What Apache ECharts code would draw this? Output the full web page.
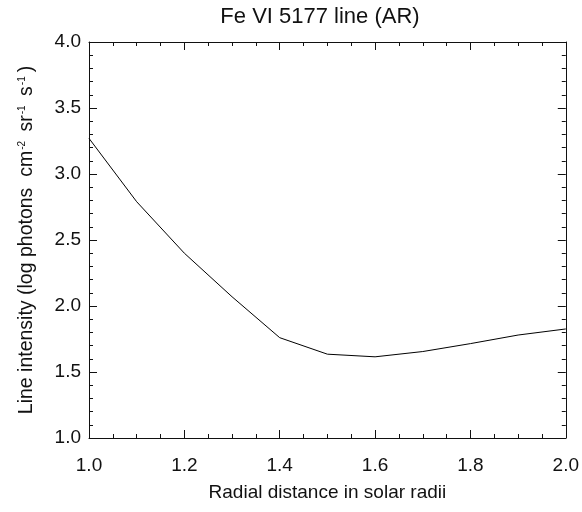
<!DOCTYPE html>
<html>
<head>
<meta charset="utf-8">
<script src="https://cdn.jsdelivr.net/npm/echarts@6/dist/echarts.min.js"></script>
<style>
html,body{margin:0;padding:0;background:#fff;}
#chart{width:582px;height:512px;}
</style>
</head>
<body>
<div id="chart"></div>
<script>
// Data
var radius = [1.0, 1.1, 1.2, 1.3, 1.4, 1.5, 1.6, 1.7, 1.8, 1.9, 2.0];
var intensity = [3.27, 2.79, 2.40, 2.07, 1.76, 1.635, 1.615, 1.655, 1.715, 1.78, 1.826];
var xTicks = { min: 1.0, max: 2.0, interval: 0.2, minor: 4 };
var yTicks = { min: 1.0, max: 4.0, interval: 0.5, minor: 5 };

var titleText = 'Fe VI 5177 line (AR)';
var xName = 'Radial distance in solar radii';
var yName = 'Line intensity (log photons  cm{sup|-2} sr{sup|-1} s{sup|-1})';

var font = '"Liberation Sans", Arial, Helvetica, sans-serif';
var ink = '#111';

var points = radius.map(function (r, i) { return [r, intensity[i]]; });

function baseAxis(t, showLabel) {
  return {
    type: 'value',
    min: t.min,
    max: t.max,
    interval: t.interval,
    axisLine: { show: true, onZero: false, lineStyle: { color: ink, width: 1 } },
    axisTick: { show: true, inside: true, length: 8, lineStyle: { color: ink, width: 1 } },
    minorTick: { show: true, splitNumber: t.minor, length: 4, lineStyle: { color: ink, width: 1 } },
    splitLine: { show: false },
    minorSplitLine: { show: false },
    axisLabel: {
      show: showLabel,
      color: ink,
      fontFamily: font,
      fontSize: 19,
      formatter: function (v) { return v.toFixed(1); }
    }
  };
}

var xBottom = baseAxis(xTicks, true);
xBottom.position = 'bottom';
xBottom.name = xName;
xBottom.nameLocation = 'middle';
xBottom.nameGap = 45;
xBottom.nameTextStyle = { color: ink, fontFamily: font, fontSize: 19 };
xBottom.axisLabel.margin = 18;

var xTop = baseAxis(xTicks, false);
xTop.position = 'top';

var yLeft = baseAxis(yTicks, true);
yLeft.position = 'left';
yLeft.axisLabel.margin = 8;
yLeft.name = yName;
yLeft.nameLocation = 'middle';
yLeft.nameGap = 52;
yLeft.nameRotate = 90;
yLeft.nameTextStyle = {
  color: ink, fontFamily: font, fontSize: 19.5,
  rich: {
    sup: { fontSize: 10, fontFamily: font, color: ink, verticalAlign: 'top', padding: [0, 4, 0, 1] }
  }
};

var yRight = baseAxis(yTicks, false);
yRight.position = 'right';

var chart = echarts.init(document.getElementById('chart'), null, { renderer: 'canvas' });
chart.setOption({
  animation: false,
  backgroundColor: '#fff',
  title: {
    text: titleText,
    left: 320,
    textAlign: 'center',
    top: 6,
    padding: 0,
    textStyle: { color: ink, fontFamily: font, fontSize: 22, fontWeight: 'normal' }
  },
  grid: { left: 89, right: 14, top: 42, bottom: 74, containLabel: false },
  xAxis: [xBottom, xTop],
  yAxis: [yLeft, yRight],
  series: [{
    type: 'line',
    xAxisIndex: 0,
    yAxisIndex: 0,
    data: points,
    showSymbol: false,
    symbol: 'none',
    lineStyle: { color: '#000', width: 1 },
    clip: true
  }]
});
</script>
</body>
</html>
